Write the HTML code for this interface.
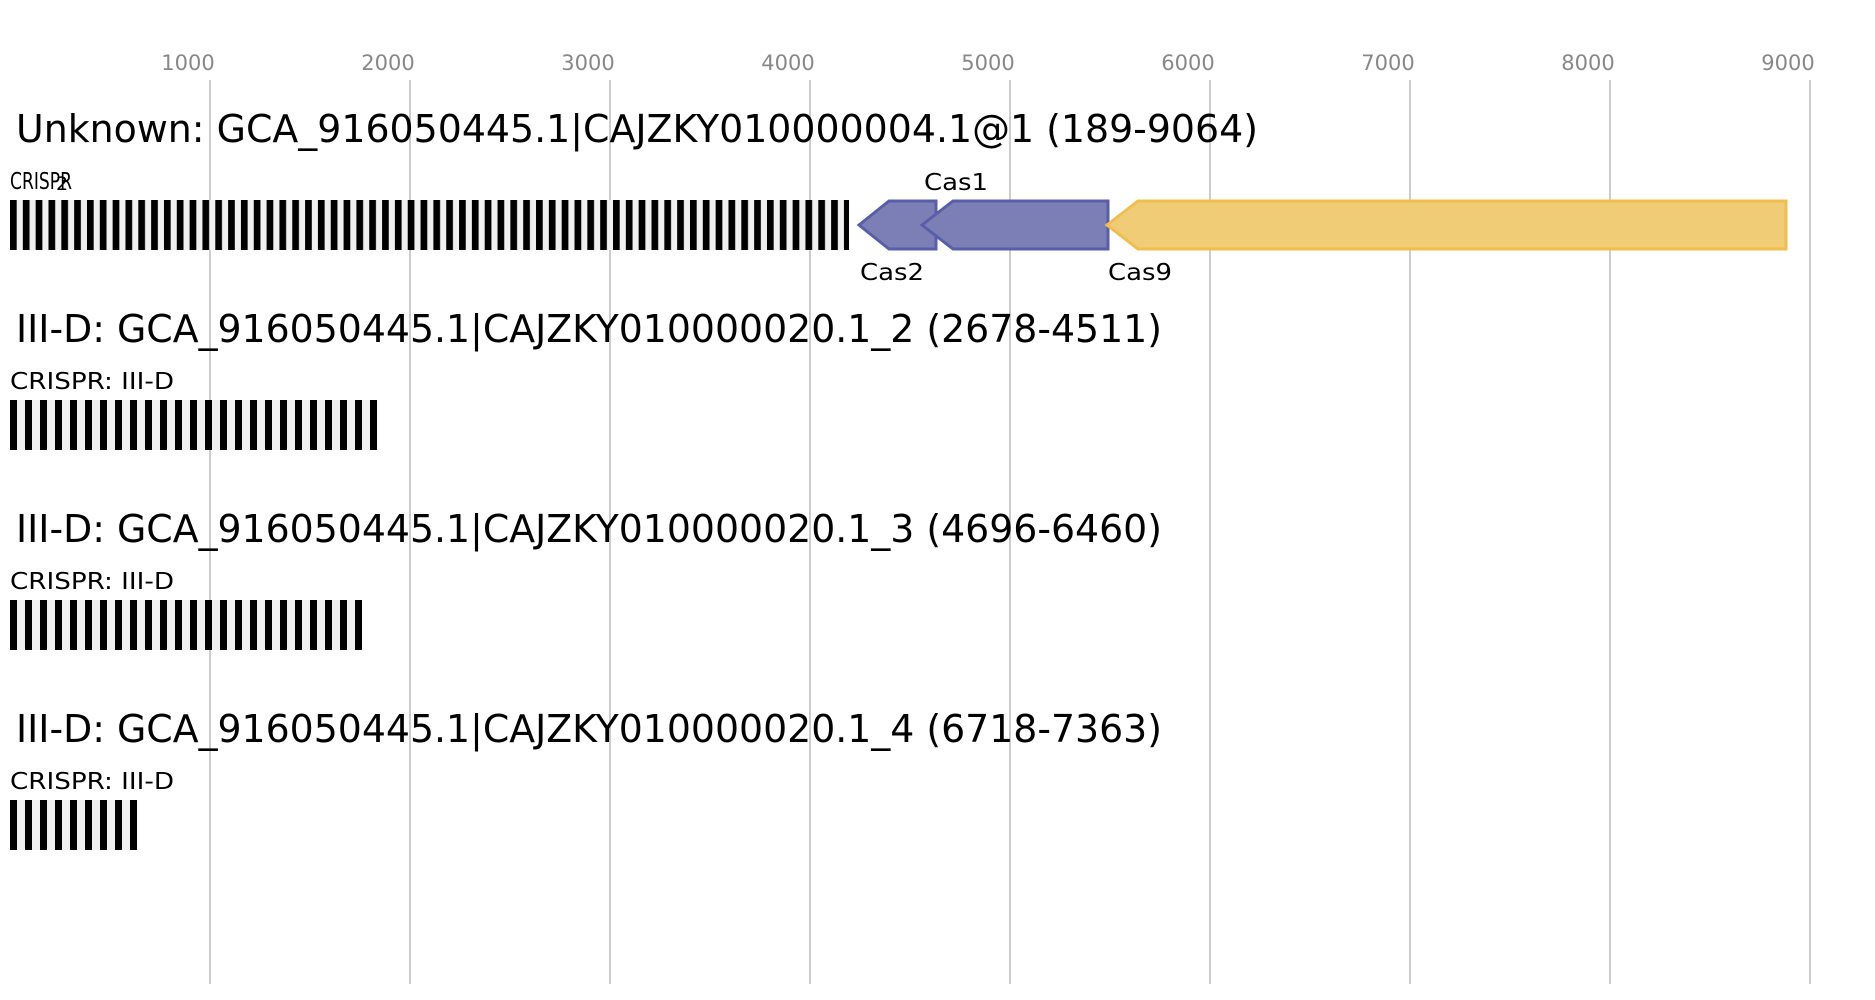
<!DOCTYPE html>
<html><head><meta charset="utf-8"><style>html,body{margin:0;padding:0;background:#fff}svg{display:block}</style></head>
<body>
<svg width="1875" height="1000" viewBox="0 0 1875 1000" xmlns="http://www.w3.org/2000/svg" font-family="'DejaVu Sans','Liberation Sans',sans-serif">
<g stroke="#bbb" stroke-width="1.5">
<line x1="210" y1="80" x2="210" y2="984"/><line x1="410" y1="80" x2="410" y2="984"/><line x1="610" y1="80" x2="610" y2="984"/><line x1="810" y1="80" x2="810" y2="984"/><line x1="1010" y1="80" x2="1010" y2="984"/><line x1="1210" y1="80" x2="1210" y2="984"/><line x1="1410" y1="80" x2="1410" y2="984"/><line x1="1610" y1="80" x2="1610" y2="984"/><line x1="1810" y1="80" x2="1810" y2="984"/>
</g>
<g fill="#888" font-size="21" text-anchor="middle">
<text x="188" y="70">1000</text><text x="388" y="70">2000</text><text x="588" y="70">3000</text><text x="788" y="70">4000</text><text x="988" y="70">5000</text><text x="1188" y="70">6000</text><text x="1388" y="70">7000</text><text x="1588" y="70">8000</text><text x="1788" y="70">9000</text>
</g>
<g fill="#000" font-size="38">
<text x="16" y="142" textLength="1242" lengthAdjust="spacingAndGlyphs">Unknown: GCA_916050445.1|CAJZKY010000004.1@1 (189-9064)</text>
<text x="16" y="342" textLength="1146" lengthAdjust="spacingAndGlyphs">III-D: GCA_916050445.1|CAJZKY010000020.1_2 (2678-4511)</text>
<text x="16" y="542" textLength="1146" lengthAdjust="spacingAndGlyphs">III-D: GCA_916050445.1|CAJZKY010000020.1_3 (4696-6460)</text>
<text x="16" y="742" textLength="1146" lengthAdjust="spacingAndGlyphs">III-D: GCA_916050445.1|CAJZKY010000020.1_4 (6718-7363)</text>
</g>
<g fill="#000" font-size="23">
<text x="10" y="189" textLength="62" lengthAdjust="spacingAndGlyphs" font-size="23">CRISPR</text>
<text x="10" y="389" textLength="164" lengthAdjust="spacingAndGlyphs">CRISPR: III-D</text>
<text x="10" y="589" textLength="164" lengthAdjust="spacingAndGlyphs">CRISPR: III-D</text>
<text x="10" y="789" textLength="164" lengthAdjust="spacingAndGlyphs">CRISPR: III-D</text>
<text x="924" y="190" textLength="64" lengthAdjust="spacingAndGlyphs">Cas1</text>
<text x="860" y="280" textLength="64" lengthAdjust="spacingAndGlyphs">Cas2</text>
<text x="1108" y="280" textLength="64" lengthAdjust="spacingAndGlyphs">Cas9</text>
<text x="56" y="190" font-size="19">2</text>
</g>
<defs>
<pattern id="p1" x="10" y="0" width="12.83" height="1000" patternUnits="userSpaceOnUse"><rect width="12.83" height="1000" fill="#f0f0f0"/><rect width="6.7" height="1000" fill="#000"/></pattern>
<pattern id="p2" x="10" y="0" width="15" height="1000" patternUnits="userSpaceOnUse"><rect width="15" height="1000" fill="#f0f0f0"/><rect width="7" height="1000" fill="#000"/></pattern>
</defs>
<rect x="10" y="200" width="839" height="50" fill="url(#p1)"/>
<rect x="10" y="400" width="367" height="50" fill="url(#p2)"/>
<rect x="10" y="600" width="352" height="50" fill="url(#p2)"/>
<rect x="10" y="800" width="127" height="50" fill="url(#p2)"/>
<g stroke-width="3" stroke-linejoin="miter">
<polygon points="859,225 889,201 936,201 936,249 889,249" fill="#7b7fb6" stroke="#5a5ea8"/>
<polygon points="922,225 953,201 1108,201 1108,249 953,249" fill="#7b7fb6" stroke="#5a5ea8"/>
<polygon points="1107,225 1138,201 1786,201 1786,249 1138,249" fill="#f1cc76" stroke="#f0bd4f"/>
</g>
</svg>
</body></html>
